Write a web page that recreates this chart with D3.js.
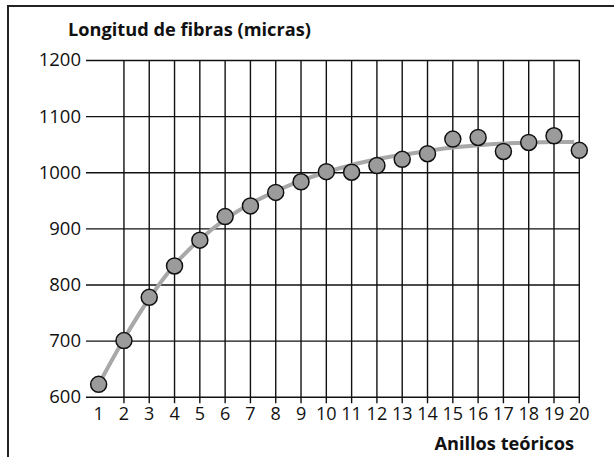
<!DOCTYPE html>
<head>
<meta charset="utf-8">
<script src="https://cdn.jsdelivr.net/npm/d3@7"></script>
<style>
  body { margin: 0; background: #fff; }
  svg text { font-family: "Open Sans", sans-serif; fill: #111; }
</style>
</head>
<body>
<svg width="614" height="457"></svg>
<script>
// anillos teoricos (x) and longitud de fibras (y)
var rings = d3.range(1, 21)
var fibre = [622, 700, 777, 833, 879, 921, 940, 964, 983, 1001,
             1000, 1012, 1023, 1033, 1059, 1062, 1037, 1053, 1065, 1039]
// fitted trend
var trendX = [1, 2, 3, 4, 5, 6, 7, 8, 9, 10, 11, 12, 13, 14, 15, 16, 17, 18, 19, 19.8]
var trendY = [622, 703, 775, 835, 880, 916, 944, 966, 985, 1000,
              1013, 1023, 1031, 1038, 1044, 1048, 1051, 1053, 1054, 1054]
var yTicks = [600, 700, 800, 900, 1000, 1100, 1200]
var gridX = d3.range(2, 21)

var svg = d3.select('svg')

var x = d3.scaleLinear().domain([0.5, 20]).range([86, 579.3])
  , y = d3.scaleLinear().domain([600, 1200]).range([396.7, 60])

// frame (top + left only)
svg.append('path')
   .attr('d', 'M8,457 V6 H614')
   .attr('fill', 'none')
   .attr('stroke', '#222')
   .attr('stroke-width', 2)

// horizontal grid + labels
var ax = svg.append('g')
   .attr('transform', 'translate(' + x.range()[0] + ',0)')
   .call(d3.axisLeft(y).tickValues(yTicks).tickFormat(d3.format('d'))
         .tickSize(-(x.range()[1] - x.range()[0])).tickPadding(5))
ax.select('.domain').remove()
ax.selectAll('line').attr('stroke', '#111').attr('stroke-width', 1.4)
ax.selectAll('text').attr('font-size', 18.5).attr('font-family', '"Open Sans", sans-serif').attr('fill', '#111')

// vertical grid
svg.append('g').selectAll('line').data(gridX).enter().append('line')
   .attr('x1', x).attr('x2', x)
   .attr('y1', y(1200)).attr('y2', y(600) + 6.5)
   .attr('stroke', '#111').attr('stroke-width', 1.4)

// x labels
svg.append('g').selectAll('text').data(rings).enter().append('text')
   .attr('x', x).attr('y', 420)
   .attr('text-anchor', 'middle')
   .attr('font-size', 18)
   .text(function (d) { return d })

// trend
var line = d3.line()
   .x(function (d) { return x(d[0]) })
   .y(function (d) { return y(d[1]) })
   .curve(d3.curveCatmullRom)
svg.append('path')
   .datum(d3.zip(trendX, trendY))
   .attr('d', line)
   .attr('fill', 'none')
   .attr('stroke', '#a8a8a8')
   .attr('stroke-width', 4)

// points
svg.append('g').selectAll('circle').data(d3.zip(rings, fibre)).enter().append('circle')
   .attr('cx', function (d) { return x(d[0]) })
   .attr('cy', function (d) { return y(d[1]) })
   .attr('r', 8)
   .attr('fill', '#9b9b9b')
   .attr('stroke', '#111')
   .attr('stroke-width', 1.5)

// titles
svg.append('text')
   .attr('x', 68).attr('y', 36)
   .attr('font-size', 18.2).attr('font-weight', 'bold')
   .text('Longitud de fibras (micras)')
svg.append('text')
   .attr('x', 574).attr('y', 450)
   .attr('text-anchor', 'end')
   .attr('font-size', 18.2).attr('font-weight', 'bold')
   .text('Anillos teóricos')
</script>
</body>
